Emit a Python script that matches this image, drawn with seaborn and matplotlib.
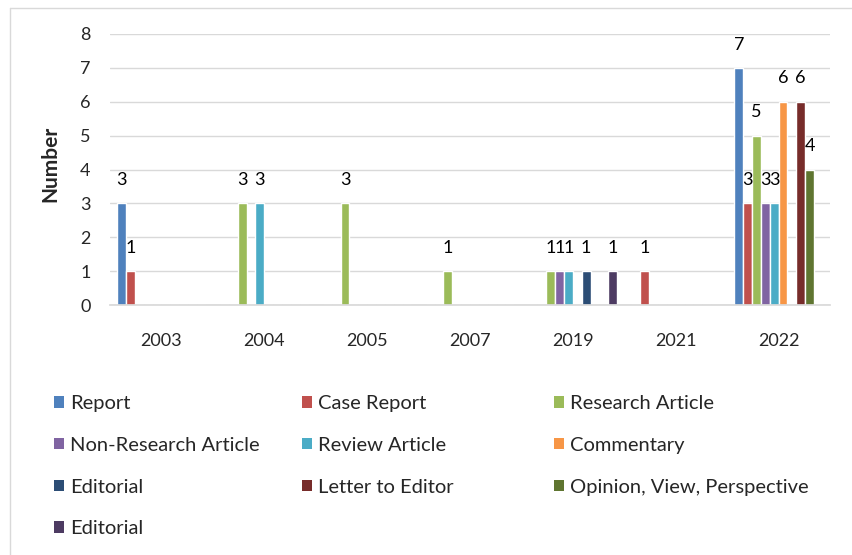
import matplotlib
matplotlib.use("Agg")
import matplotlib.pyplot as plt
import seaborn as sns
import pandas as pd
from matplotlib.patches import Patch

years = ['2003', '2004', '2005', '2007', '2019', '2021', '2022']
types = ['Report', 'Case Report', 'Research Article', 'Non-Research Article',
         'Review Article', 'Commentary', 'Editorial', 'Letter to Editor',
         'Opinion, View, Perspective', 'Editorial']
colors = ['#4F81BD', '#C0504D', '#9BBB59', '#8064A2', '#4BACC6',
          '#F79646', '#2C4D75', '#772C2A', '#5F7530', '#4D3B62']

report = [3, 0, 0, 0, 0, 0, 7]
case_report = [1, 0, 0, 0, 0, 1, 3]
research = [0, 3, 3, 1, 1, 0, 5]
non_research = [0, 0, 0, 0, 1, 0, 3]
review = [0, 3, 0, 0, 1, 0, 3]
commentary = [0, 0, 0, 0, 0, 0, 6]
editorial = [0, 0, 0, 0, 1, 0, 0]
letter = [0, 0, 0, 0, 0, 0, 6]
opinion = [0, 0, 0, 0, 0, 0, 4]
editorial_2 = [0, 0, 0, 0, 1, 0, 0]

series = [report, case_report, research, non_research, review,
          commentary, editorial, letter, opinion, editorial_2]

# long form table, hue keys must be unique (two "Editorial" series)
rows = []
for i, vals in enumerate(series):
    for yr, v in zip(years, vals):
        rows.append({'year': yr, 'key': str(i), 'value': v})
df = pd.DataFrame(rows)
keys = [str(i) for i in range(len(types))]

sns.set_theme(style='white')
plt.rcParams['font.family'] = ['Lato', 'DejaVu Sans']

fig = plt.figure(figsize=(8.52, 5.55), dpi=100)
ax = fig.add_axes([110 / 852, 1 - 305 / 555, 720 / 852, 271 / 555])

sns.barplot(data=df, x='year', y='value', hue='key', order=years,
            hue_order=keys, palette=colors, width=0.86, ax=ax,
            legend=False, saturation=1, errorbar=None)

for cont, vals in zip(ax.containers, series):
    labels = ['' if v == 0 else str(v) for v in vals]
    ax.bar_label(cont, labels=labels, padding=11, fontsize=13, color='black')

ax.set_ylim(0, 8)
ax.set_yticks(range(0, 9))
ax.set_xlim(-0.5, len(years) - 0.5)
ax.yaxis.grid(True, color='#D9D9D9', linewidth=1)
ax.set_axisbelow(True)
for s in ['top', 'right', 'left']:
    ax.spines[s].set_visible(False)
ax.spines['bottom'].set_color('#D9D9D9')
ax.tick_params(axis='y', length=0, pad=14, labelsize=13)
ax.tick_params(axis='x', length=0, pad=20, labelsize=13)
ax.set_xlabel('')
ax.set_ylabel('Number', fontsize=15, fontweight='bold')
ax.yaxis.set_label_coords(-50 / 720, 0.52)

# legend in three columns, filled row by row
handles = [Patch(facecolor=c, edgecolor='none') for c in colors]
col_x = [54 / 852, 302 / 852, 554 / 852]
for c in range(3):
    idx = list(range(c, len(types), 3))
    fig.legend([handles[i] for i in idx], [types[i] for i in idx],
               loc='upper left', bbox_to_anchor=(col_x[c], 1 - 395 / 555),
               frameon=False, fontsize=14.5, handlelength=0.5,
               handleheight=0.5, handletextpad=0.3, labelspacing=1.23,
               borderaxespad=0, borderpad=0)

# chart area border (top and left edges visible)
fig.add_artist(plt.Line2D([10 / 852, 1], [1 - 8 / 555, 1 - 8 / 555],
                          color='#D9D9D9', lw=1, transform=fig.transFigure))
fig.add_artist(plt.Line2D([10 / 852, 10 / 852], [0, 1 - 8 / 555],
                          color='#D9D9D9', lw=1, transform=fig.transFigure))

fig.savefig('out.png', dpi=100)
